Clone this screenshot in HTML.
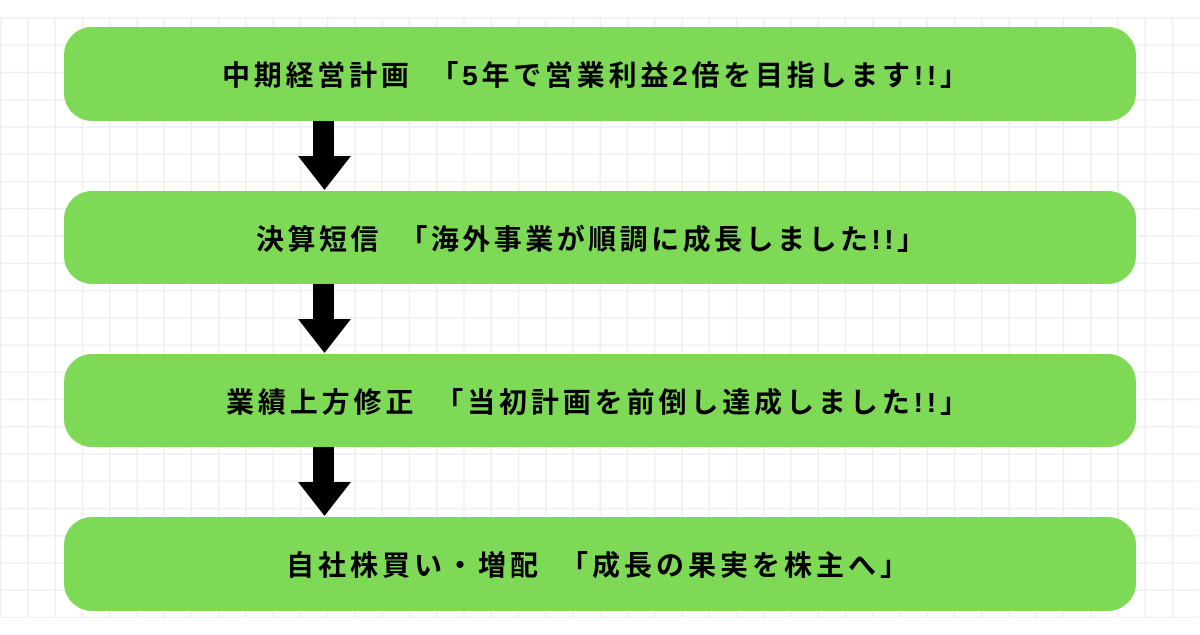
<!DOCTYPE html>
<html><head><meta charset="utf-8"><style>
html,body{margin:0;padding:0;background:#fff;}
svg{display:block;}
text{font-family:"Liberation Sans","Noto Sans CJK JP",sans-serif;font-weight:bold;font-size:28px;fill:#000;}
</style></head><body>
<svg width="1200" height="635" viewBox="0 0 1200 635" xmlns="http://www.w3.org/2000/svg">
<defs>
<pattern id="g" x="0" y="17.3" width="27.25" height="27.25" patternUnits="userSpaceOnUse">
<path d="M0 0H27.25M0 0V27.25" stroke="#efefef" stroke-width="3" fill="none"/>
</pattern>
</defs>
<rect x="0" y="17" width="1199" height="601" fill="url(#g)"/>
<rect x="64" y="27" width="1072" height="94" rx="28" fill="#7ed957"/>
<rect x="64" y="191" width="1072" height="93" rx="28" fill="#7ed957"/>
<rect x="64" y="354" width="1072" height="93" rx="28" fill="#7ed957"/>
<rect x="64" y="517" width="1072" height="94" rx="28" fill="#7ed957"/>
<g fill="#000">
<polygon points="313,121 334,121 334,156 351,156 324.5,190 298,156 313,156"/>
<polygon points="313,284 334,284 334,319 351,319 324.5,353 298,319 313,319"/>
<polygon points="313,447 334,447 334,482 351,482 324.5,516 298,482 313,482"/>
</g>
<text x="222" y="85" textLength="746" lengthAdjust="spacing">中期経営計画　「5年で営業利益2倍を目指します!!」</text>
<text x="256" y="249" textLength="669" lengthAdjust="spacing">決算短信　「海外事業が順調に成長しました!!」</text>
<text x="226" y="412" textLength="742" lengthAdjust="spacing">業績上方修正　「当初計画を前倒し達成しました!!」</text>
<text x="286" y="575" textLength="622" lengthAdjust="spacing">自社株買い・増配　「成長の果実を株主へ」</text>
</svg>
</body></html>
